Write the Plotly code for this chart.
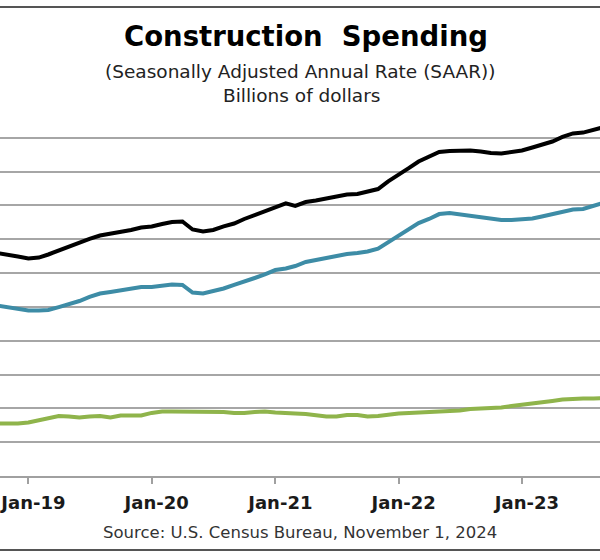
import plotly.graph_objects as go
import pandas as pd

# Monthly dates Oct 2018 .. Sep 2023
dates = pd.date_range("2018-10-01", "2023-09-01", freq="MS")

total = [1319, 1310, 1298, 1286, 1292, 1310, 1334, 1360, 1378, 1402, 1422, 1434,
         1440, 1455, 1470, 1476, 1490, 1502, 1505, 1458, 1446, 1455, 1476, 1493,
         1520, 1544, 1564, 1591, 1612, 1597, 1620, 1629, 1641, 1656, 1665, 1668,
         1680, 1697, 1742, 1780, 1822, 1860, 1887, 1916, 1922, 1925, 1925, 1919,
         1910, 1907, 1916, 1925, 1943, 1957, 1978, 2005, 2026, 2031, 2046, 2064]

private = [1008, 997, 988, 979, 979, 982, 999, 1014, 1035, 1059, 1079, 1088,
           1097, 1109, 1118, 1118, 1124, 1133, 1130, 1085, 1079, 1091, 1109, 1130,
           1153, 1171, 1192, 1218, 1227, 1242, 1266, 1277, 1289, 1304, 1313, 1319,
           1328, 1345, 1384, 1419, 1461, 1496, 1520, 1549, 1555, 1547, 1538, 1529,
           1520, 1514, 1514, 1517, 1523, 1535, 1549, 1564, 1576, 1579, 1597, 1617]

public = [310, 310, 310, 316, 331, 343, 355, 352, 346, 352, 355, 346,
          358, 358, 358, 373, 381, 381, 381, 381, 381, 381, 379, 373,
          373, 379, 381, 376, 370, 370, 367, 361, 352, 352, 361, 361,
          352, 355, 364, 370, 373, 376, 376, 379, 381, 387, 396, 399,
          402, 405, 414, 423, 432, 438, 444, 452, 458, 458, 458, 461]

series = [
    ("Total", total, "#000000"),
    ("Private", private, "#3d8ca6"),
    ("Public", public, "#8fb44b"),
]

fig = go.Figure()
for name, vals, color in series:
    fig.add_trace(go.Scatter(x=dates, y=vals, mode="lines", name=name,
                             line=dict(color=color, width=4)))

font_family = "'DejaVu Sans', 'Open Sans', sans-serif"

fig.update_layout(
    width=600, height=560,
    margin=dict(l=0, r=0, t=104, b=84, autoexpand=False),
    paper_bgcolor="white", plot_bgcolor="white",
    showlegend=False,
    font=dict(family=font_family, color="#1a1a1a"),
)

fig.update_xaxes(
    type="date",
    range=["2018-10-09", "2023-08-20"],
    tick0="2019-01-01", dtick="M12", tickformat="%b-%y",
    ticks="outside", ticklen=6, tickwidth=2, tickcolor="#a0a0a0",
    showline=True, linecolor="#a0a0a0", linewidth=2,
    showgrid=False, zeroline=False,
    tickfont=dict(size=18, family=font_family, color="#1a1a1a", weight="bold"),
    ticklabelstandoff=3,
    ticklabelshift=5,
    ticklabeloverflow="allow",
    automargin=False,
)
fig.update_yaxes(
    range=[0, 2200], dtick=200,
    showgrid=True, gridcolor="#a6a6a6", gridwidth=2,
    showticklabels=False, zeroline=False, showline=False,
    automargin=False,
)

def py(pix):
    return (476 - pix) / 372

# Titles
fig.add_annotation(text="<b>Construction  Spending</b>", xref="paper", yref="paper",
                   x=0.51, y=py(36), xanchor="center", yanchor="middle",
                   showarrow=False, font=dict(size=27.5, color="#000000", family=font_family))
fig.add_annotation(text="(Seasonally Adjusted Annual Rate (SAAR))", xref="paper", yref="paper",
                   x=0.5, y=py(71), xanchor="center", yanchor="middle",
                   showarrow=False, font=dict(size=18.5, color="#222222", family=font_family))
fig.add_annotation(text="Billions of dollars", xref="paper", yref="paper",
                   x=0.502, y=py(95), xanchor="center", yanchor="middle",
                   showarrow=False, font=dict(size=18.5, color="#222222", family=font_family))
fig.add_annotation(text="Source: U.S. Census Bureau, November 1, 2024", xref="paper", yref="paper",
                   x=0.5, y=py(532), xanchor="center", yanchor="middle",
                   showarrow=False, font=dict(size=16.5, color="#333333", family=font_family))

# Frame lines (top and bottom)
fig.add_shape(type="line", xref="paper", yref="paper", x0=0, x1=1,
              y0=py(7), y1=py(7), line=dict(color="#555555", width=2))
fig.add_shape(type="line", xref="paper", yref="paper", x0=0, x1=1,
              y0=py(550), y1=py(550), line=dict(color="#555555", width=2))

fig.write_html("out.html", config={"displayModeBar": False},
               post_script="document.body.style.margin='0px';")
